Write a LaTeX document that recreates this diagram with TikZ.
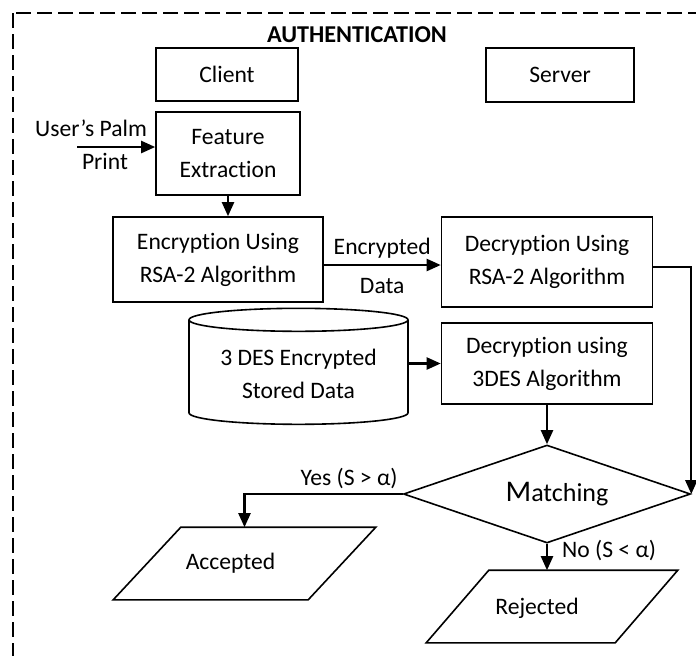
\documentclass[tikz,border=0pt]{standalone}
\usepackage{fontspec}
\setmainfont{Carlito}[Ligatures=NoCommon]
\usetikzlibrary{arrows.meta,shapes.geometric}

\begin{document}
\begin{tikzpicture}[x=0.5pt,y=-0.5pt,line width=0.8pt,
      every node/.style={font=\fontsize{11.8}{16.5}\selectfont,align=center,inner sep=2pt},
      box/.style={draw,rectangle},
      store/.style={draw,cylinder,shape border rotate=90,aspect=0.14},
      decide/.style={draw,diamond,aspect=2.9,inner sep=0pt},
      slantbox/.style={rectangle,inner sep=0pt},
      flow/.style={line width=1.1pt,->},
      >={Triangle[length=7pt,width=6pt]}]
  \clip(0,0)rectangle(696,655);
  \draw[line width=0.9pt,dash pattern=on 7.5pt off 3pt](13,13)rectangle(720,680);
  \node[font=\fontsize{12.1}{14}\selectfont\bfseries](title)at(357,35){AUTHENTICATION};
  \node[box,minimum width=71pt,minimum height=26.5pt](client)at(227,74.5){Client};
  \node[box,minimum width=74pt,minimum height=27pt](server)at(560,75){Server};
  \node[box,minimum width=72pt,minimum height=41.5pt](feat)at(228,153.5){Feature\\Extraction};
  \node[box,minimum width=105pt,minimum height=42.5pt](enc)at(218,259.5)
    {Encryption Using\\RSA-2 Algorithm};
  \node[box,minimum width=105.5pt,minimum height=45pt](decrsa)at(547,262)
    {Decryption Using\\RSA-2 Algorithm};
  \node[store,minimum width=109.5pt,minimum height=58pt](db)at(298.5,374)
    {3 DES Encrypted\\Stored Data};
  \node[box,minimum width=105.5pt,minimum height=40.5pt](dec3)at(547,363.5)
    {Decryption using\\3DES Algorithm};
  \node[decide,minimum width=143.5pt,minimum height=49pt](match)at(547,494)
    {\hspace*{10pt}{\fontsize{15}{15}\selectfont M}{\fontsize{13}{13}\selectfont atching}};
  \node[slantbox,minimum width=130.5pt,minimum height=35.5pt,
    label={[xshift=-7pt]center:Accepted}](acc)at(244.5,563.5){};
  \draw(acc.south west)--++(195,0)--(acc.north east)--++(-195,0)--cycle;
  \node[slantbox,minimum width=125pt,minimum height=35.5pt,
    label={[xshift=-7.5pt,yshift=-1pt]center:Rejected}](rej)at(552,606.5){};
  \draw(rej.south west)--++(189,0)--(rej.north east)--++(-189,0)--cycle;
  \node(palmtxt)at(91,128){User's Palm};
  \node(printtxt)at(105,161){Print};
  \coordinate(palm)at(77,147);
  \draw[flow](palm)--(palm-|feat.west);
  \draw[flow](feat.south)--(feat.south|-enc.north);
  \draw[flow]([yshift=-2.75pt]enc.east)--node[above=1pt](enctxt){Encrypted}
    node[below=4pt](datatxt){Data}([yshift=-2.75pt]enc.east-|decrsa.west);
  \draw[flow]([yshift=-2.5pt]decrsa.east)-|(match.east);
  \draw[flow](dec3.west-|db.east)--(dec3.west);
  \draw[flow](dec3.south)--(match.north);
  \draw[flow](match.west)-|node[pos=0,above left](yestxt){Yes (S > α)}(acc.north);
  \draw[flow](match.south)--node[pos=0.25,right=5pt](notxt){No (S < α)}(match.south|-rej.north);
\end{tikzpicture}
\end{document}
